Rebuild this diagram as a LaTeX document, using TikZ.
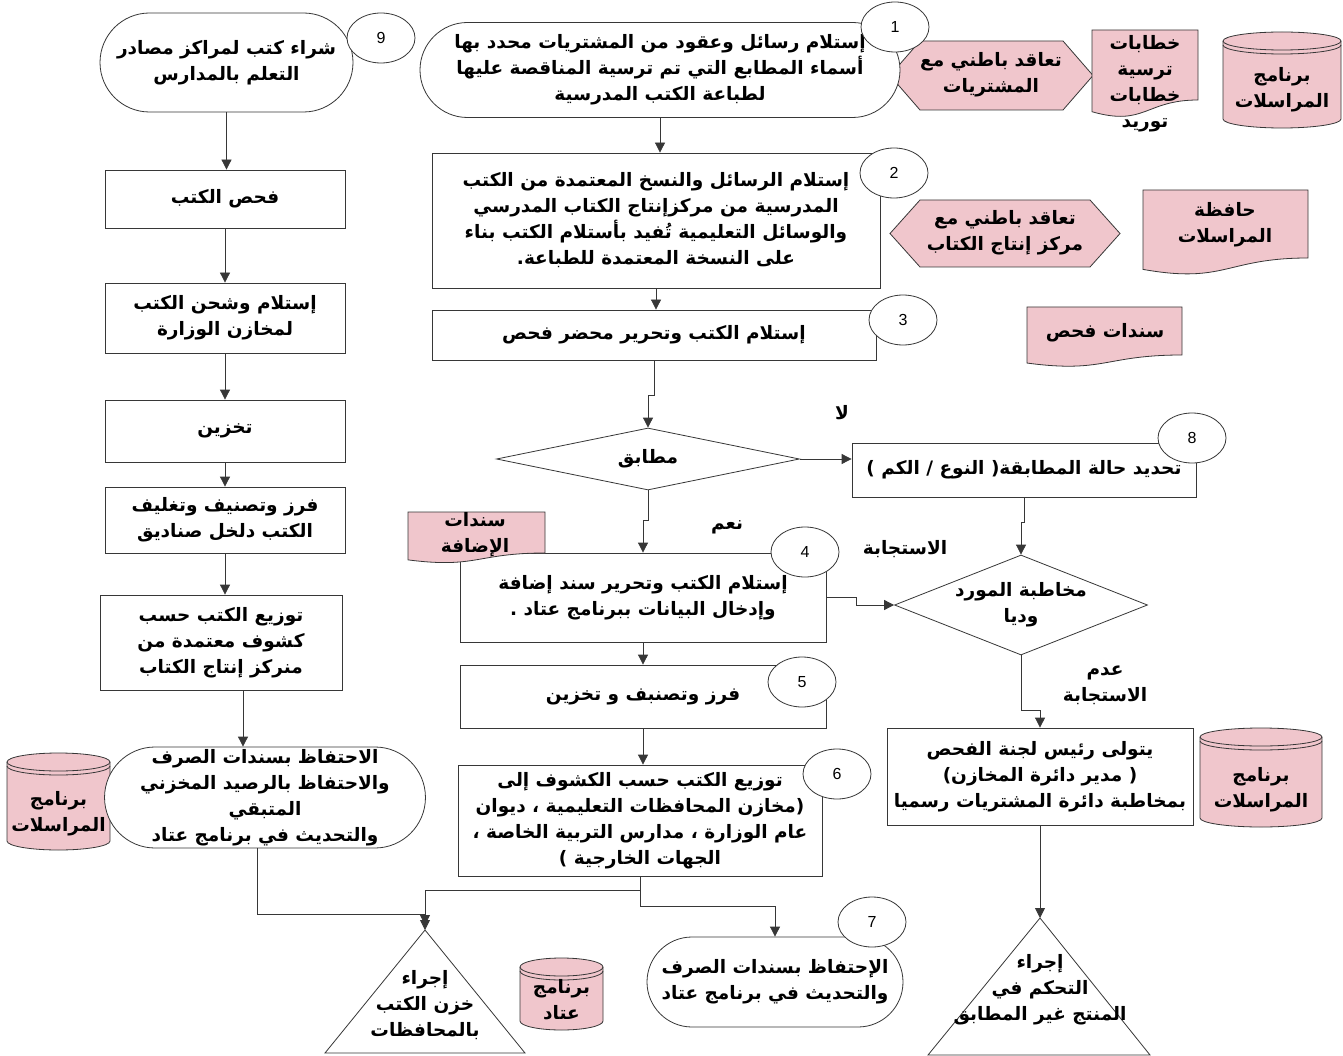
\documentclass[tikz,border=0pt]{standalone}
\usepackage{fontspec}
\usetikzlibrary{shapes.geometric,shapes.misc,arrows.meta,calc}
\TeXXeTstate=1
\newfontfamily\arfont[Script=Arabic]{DejaVu Sans}
\newfontfamily\latfont{Liberation Sans}
\newcommand\RL[1]{\beginR #1\endR}
\definecolor{pinkf}{RGB}{240,198,204}
\definecolor{linec}{RGB}{55,55,55}
\tikzset{
 txtbase/.style={font=\arfont\bfseries\fontsize{18.5}{26}\selectfont, align=center, inner sep=0pt},
 boxn/.style={txtbase, draw=linec, line width=0.8pt, rectangle, fill=white},
 stad/.style={txtbase, draw=linec, line width=0.8pt, rounded rectangle, fill=white},
 dia/.style={draw=linec, line width=0.8pt, diamond, fill=white, inner sep=0pt},
 numc/.style={draw=linec, line width=0.8pt, ellipse, fill=white, minimum width=68pt, minimum height=50pt, font=\latfont\fontsize{16}{18}\selectfont, inner sep=0pt},
 pinkshape/.style={draw=linec, line width=0.8pt, fill=pinkf},
 myplain/.style={draw=linec, line width=0.8pt},
 conn/.style={draw=linec, line width=0.8pt, -{Triangle[length=10pt,width=10pt]}},
}
\newcommand\docshape[4]{%
 \filldraw[pinkshape] (#1,#2) -- (#3,#2) -- (#3,#4) .. controls ({(#1+#3)/2},#4) and ({(#1+#3)/2},{#2+1.107*(#4-#2)/0.8}) .. (#1,{#2+0.934*(#4-#2)/0.8}) -- cycle;}
\newcommand\hexshape[5]{%
 \filldraw[pinkshape] (#1,{(#3+#4)/2}) -- ({#1+#5},#3) -- ({#2-#5},#3) -- (#2,{(#3+#4)/2}) -- ({#2-#5},#4) -- ({#1+#5},#4) -- cycle;}
\newcommand\cylshape[4]{%
 \filldraw[pinkshape] ({#1-#3/2},{#2+9}) -- ({#1-#3/2},{#2+#4-9}) arc[start angle=180,end angle=360,x radius={#3/2*1pt},y radius=9pt] -- ({#1+#3/2},{#2+9}) arc[start angle=0,end angle=180,x radius={#3/2*1pt},y radius=9pt] -- cycle;
 \draw[myplain] ({#1-#3/2},{#2+9}) arc[start angle=180,end angle=360,x radius={#3/2*1pt},y radius=9pt];
 \draw[myplain] ({#1-#3/2},{#2+13}) arc[start angle=180,end angle=360,x radius={#3/2*1pt},y radius=9pt];}
\begin{document}
\begin{tikzpicture}[x=1pt,y=-1pt]
\useasboundingbox (0,0) rectangle (1343,1056);
\fill[white] (0,0) rectangle (1343,1056);

% ---------- right-hand pink shapes
\hexshape{890}{1093}{41}{110}{30}
\node[txtbase] (hx1) at (991,75) {\RL{تعاقد باطني مع}\\\RL{المشتريات}};
\docshape{1092}{30}{1198}{100}
\node[txtbase] (dc1) at (1145,84) {\RL{خطابات}\\\RL{ترسية}\\\RL{خطابات}\\\RL{توريد}};
\cylshape{1282}{32}{118}{96}
\node[txtbase] (cy1) at (1282,90) {\RL{برنامج}\\\RL{المراسلات}};

\hexshape{890}{1120}{200}{267}{30}
\node[txtbase] (hx2) at (1005,233) {\RL{تعاقد باطني مع}\\\RL{مركز إنتاج الكتاب}};
\docshape{1143}{190}{1308}{258}
\node[txtbase] (dc2) at (1225,225) {\RL{حافظة}\\\RL{المراسلات}};
\docshape{1027}{307}{1182}{355}
\node[txtbase] (dc3) at (1105,333) {\RL{سندات فحص}};

\cylshape{1261}{728}{122}{99}
\node[txtbase] (cy2) at (1261,790) {\RL{برنامج}\\\RL{المراسلات}};
\cylshape{561.5}{958}{83}{72}
\node[txtbase] (cy3) at (561.5,1000) {\RL{برنامج}\\\RL{عتاد}};
\cylshape{58.5}{753}{103}{97}
\node[txtbase] (cy4) at (58.5,814) {\RL{برنامج}\\\RL{المراسلات}};

% ---------- middle column
\node[stad, minimum width=480pt, minimum height=95pt] (n1) at (660,70)
 {\RL{إستلام رسائل وعقود من المشتريات محدد بها}\\\RL{أسماء المطابع التي  تم ترسية المناقصة عليها}\\\RL{لطباعة الكتب المدرسية}};
\node[boxn, minimum width=448pt, minimum height=135pt] (n2) at (656,220.5)
 {\RL{إستلام الرسائل والنسخ المعتمدة من الكتب}\\\RL{المدرسية من مركزإنتاج الكتاب  المدرسي}\\\RL{والوسائل التعليمية تُفيد بأستلام الكتب بناء}\\\RL{على النسخة المعتمدة للطباعة.}};
\node[boxn, minimum width=444pt, minimum height=50pt] (n3) at (654,335)
 {\RL{إستلام الكتب وتحرير محضر فحص}};
\node[dia, minimum width=303pt, minimum height=62pt] (d1) at (648,459) {};
\node[txtbase] (d1t) at (d1) {\RL{مطابق}};
\node[boxn, minimum width=344pt, minimum height=54pt] (n8) at (1024,470)
 {\RL{تحديد حالة المطابقة( النوع / الكم )}};
\node[boxn, minimum width=366pt, minimum height=89pt] (n4) at (643,597.5)
 {\RL{إستلام الكتب وتحرير سند إضافة}\\\RL{وإدخال البيانات ببرنامج عتاد .}};
\docshape{408}{512}{545}{553}
\node[txtbase] (dc4) at (475,535) {\RL{سندات}\\\RL{الإضافة}};
\node[dia, minimum width=253pt, minimum height=100pt] (d2) at (1021,605) {};
\node[txtbase] (d2t) at (d2) {\RL{مخاطبة المورد}\\\RL{وديا}};
\node[boxn, minimum width=366pt, minimum height=63pt] (n5) at (643,696.5)
 {\RL{فرز وتصنبف و تخزين}};
\node[boxn, minimum width=364pt, minimum height=111pt] (n6) at (640,820.5)
 {\RL{توزيع الكتب حسب الكشوف  إلى}\\\RL{(مخازن المحافظات التعليمية ، ديوان}\\\RL{عام الوزارة ، مدارس التربية الخاصة ،}\\\RL{الجهات الخارجية )}};
\node[boxn, minimum width=306pt, minimum height=97pt] (nR) at (1040,776.5)
 {\RL{يتولى رئيس لجنة الفحص}\\\RL{( مدير دائرة المخازن)}\\\RL{بمخاطبة دائرة المشتريات رسميا}};
\node[stad, minimum width=256pt, minimum height=90pt] (n7) at (775,982)
 {\RL{الإحتفاظ بسندات الصرف}\\\RL{والتحديث في برنامج عتاد}};

% triangles
\filldraw[myplain, fill=white] (325,1053) -- (425,930) coordinate (tlA) -- (525,1053) -- cycle;
\node[txtbase] (tlT) at (425,1005) {\RL{إجراء}\\\RL{خزن الكتب}\\\RL{بالمحافظات}};
\filldraw[myplain, fill=white] (928,1055) -- (1040,918) coordinate (trA) -- (1150,1055) -- cycle;
\node[txtbase] (trT) at (1040,990) {\RL{إجراء}\\\RL{التحكم في}\\\RL{المنتج غير المطابق}};
\coordinate (tlB) at (425,925);

% ---------- left column
\node[stad, minimum width=253pt, minimum height=99pt] (L0) at (226.5,62.5)
 {\RL{شراء كتب لمراكز مصادر}\\\RL{التعلم بالمدارس}};
\node[boxn, minimum width=240pt, minimum height=58pt] (L1) at (225,199) {\RL{فحص الكتب}};
\node[boxn, minimum width=240pt, minimum height=70pt] (L2) at (225,318)
 {\RL{إستلام وشحن الكتب}\\\RL{لمخازن الوزارة}};
\node[boxn, minimum width=240pt, minimum height=62pt] (L3) at (225,431) {\RL{تخزين}};
\node[boxn, minimum width=240pt, minimum height=66pt] (L4) at (225,520)
 {\RL{فرز وتصنيف وتغليف}\\\RL{الكتب دلخل صناديق}};
\node[boxn, minimum width=242pt, minimum height=95pt] (L5) at (221,642.5)
 {\RL{توزيع الكتب حسب}\\\RL{كشوف معتمدة من}\\\RL{منركز إنتاج الكتاب}};
\node[stad, minimum width=314pt, minimum height=101pt] (L6) at (265,797.5)
 {\RL{الاحتفاظ بسندات الصرف}\\\RL{والاحتفاظ بالرصيد المخزني}\\\RL{المتبقي}\\\RL{والتحديث في برنامج عتاد}};

% ---------- labels
\node[txtbase] (lno) at (842,413) {\RL{لا}};
\node[txtbase] (lyes) at (727,527) {\RL{نعم}};
\node[txtbase] (lresp) at (905,549) {\RL{الاستجابة}};
\node[txtbase] (lnoresp) at (1105,685) {\RL{عدم}\\\RL{الاستجابة}};

% ---------- connectors
\draw[conn] (L0.south) -- (L0.south |- L1.north);
\draw[conn] (L1.south) -- (L1.south |- L2.north);
\draw[conn] (L2.south) -- (L2.south |- L3.north);
\draw[conn] (L3.south) -- (L3.south |- L4.north);
\draw[conn] (L4.south) -- (L4.south |- L5.north);
\draw[conn] ([xshift=22pt]L5.south) -- ([xshift=22pt]L5.south |- L6.north);
\draw[conn] ([xshift=-8pt]L6.south) -- ++(0,66) -| (tlB);

\draw[conn] (n1.south) -- (n1.south |- n2.north);
\draw[conn] (n2.south) -- (n2.south |- n3.north);
\draw[conn] (n3.south) -- ++(0,35) -| (d1.north);
\draw[conn] (d1.east) -- (n8.west |- d1.east);
\draw[conn] (d1.south) -- ++(0,30) -| (n4.north);
\draw[conn] (n8.south) -- ++(0,25) -| (d2.north);
\draw[conn] (n4.east) -- ++(30,0) |- (d2.west);
\draw[conn] (d2.south) -- ++(0,55) -| (nR.north);
\draw[conn] (nR.south) -- (trA);
\draw[conn] (n4.south) -- (n4.south |- n5.north);
\draw[conn] (n5.south) -- (n5.south |- n6.north);
\draw[conn] (n6.south) -- ++(0,14) -| (tlA);
\draw[conn] (n6.south) -- ++(0,30) -| (n7.north);

% ---------- number circles
\node[numc] (c1) at (895,27) {1};
\node[numc] (c2) at (894,173) {2};
\node[numc] (c3) at (903,320) {3};
\node[numc] (c4) at (805,552) {4};
\node[numc] (c5) at (802,682) {5};
\node[numc] (c6) at (837,774) {6};
\node[numc] (c7) at (872,922) {7};
\node[numc] (c8) at (1192,438) {8};
\node[numc] (c9) at (381,38) {9};
\end{tikzpicture}
\end{document}
